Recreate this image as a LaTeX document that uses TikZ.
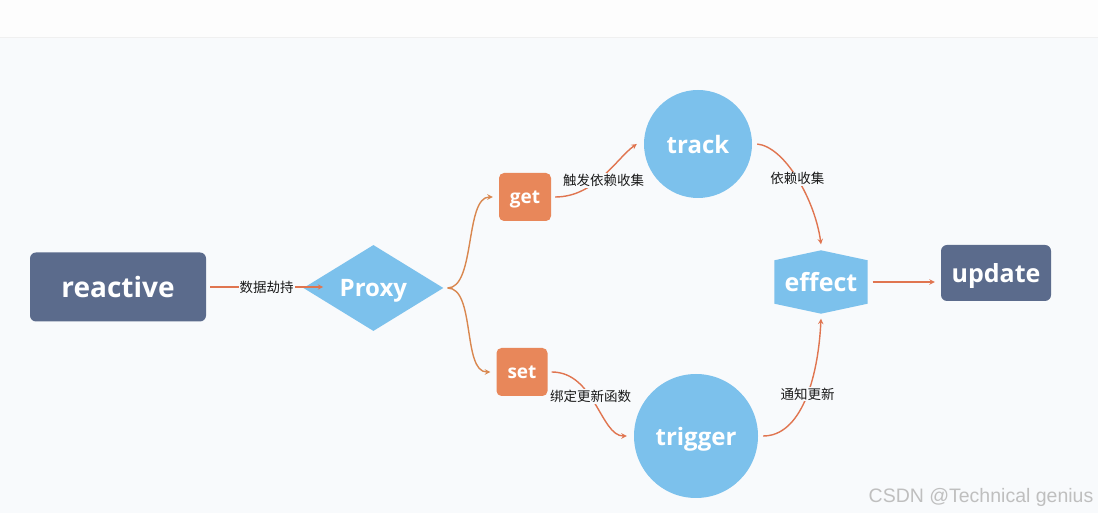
\documentclass[tikz,border=0pt]{standalone}
\usepackage{fontspec}
\setmainfont{Open Sans}
\newfontfamily\cjk{Noto Sans CJK SC}
\newfontfamily\wmfont{Liberation Sans}
\usetikzlibrary{shapes,arrows,positioning,calc,backgrounds}

\definecolor{slate}{HTML}{5B6B8C}
\definecolor{skyblue}{HTML}{7CC1EC}
\definecolor{carrot}{HTML}{E8875A}
\definecolor{linkred}{HTML}{E07550}
\definecolor{branchbrown}{HTML}{D9874F}
\definecolor{bgpale}{HTML}{F8FAFC}
\definecolor{topband}{HTML}{FDFDFD}

\begin{document}
\begin{tikzpicture}[
    x=1pt, y=1pt,
    darkbox/.style={rectangle, fill=slate, text=white, rounded corners=6pt, inner sep=0pt, text depth=0pt, font=\bfseries},
    orangebox/.style={rectangle, fill=carrot, text=white, rounded corners=5pt, inner sep=0pt, text depth=0pt, font=\fontsize{19}{21}\selectfont\bfseries},
    bluecircle/.style={circle, fill=skyblue, text=white, inner sep=0pt, text depth=0pt, font=\fontsize{24}{26}\selectfont\bfseries},
    bluediamond/.style={diamond, fill=skyblue, text=white, aspect=1.63, inner sep=0pt, text depth=0pt, minimum width=140pt, minimum height=86pt, font=\fontsize{24}{26}\selectfont\bfseries},
    hexbox/.style={rectangle, text=white, inner sep=0pt, minimum width=93pt, minimum height=63pt, font=\fontsize{25}{27}\selectfont\bfseries},
    arrow/.style={->, >=stealth, line width=1.4pt, draw=linkred},
    branch/.style={->, >=stealth, line width=1.4pt, draw=branchbrown},
    edgelabel/.style={fill=bgpale, inner sep=1pt, text=black!90, font=\cjk\fontsize{13.5}{15}\selectfont}
]
\useasboundingbox (0,0) rectangle (1098,513);

% Source
\node[darkbox, minimum width=176pt, minimum height=69pt, font=\fontsize{28}{30}\selectfont\bfseries] (reactive) at (118,226) {reactive};

% Proxy
\node[bluediamond, right=97pt of reactive, yshift=-1pt] (proxy) {Proxy};

% Handlers
\node[orangebox, minimum width=52pt, minimum height=48pt] (get) at (525,316) {get};
\node[orangebox, minimum width=51pt, minimum height=48pt] (set) at (522,141) {set};

% Track / trigger
\node[bluecircle, minimum size=108pt] (track) at (698,369) {track};
\node[bluecircle, minimum size=124pt] (trigger) at (696,77) {trigger};

% Effect and update
\node[hexbox] (effect) at (821,231) {effect};
\node[darkbox, minimum width=110pt, minimum height=56pt, font=\fontsize{25}{27}\selectfont\bfseries] (update) at (996,240) {update};

% Watermark
\node[text=black!25, font=\wmfont\fontsize{19.5}{21}\selectfont] (watermark) at (981,16) {CSDN @Technical genius};

% Background and hexagon
\begin{scope}[on background layer]
    \fill[bgpale] (0,0) rectangle (1098,513);
    \fill[topband] (0,476) rectangle (1098,513);
    \draw[black!6, line width=0.8pt] (0,476) -- (1098,476);
    \fill[skyblue] ($(effect.north west)+(0,-10)$) -- (effect.north) -- ($(effect.north east)+(0,-10)$)
        -- ($(effect.south east)+(0,10)$) -- (effect.south) -- ($(effect.south west)+(0,10)$) -- cycle;
\end{scope}

% Arrows
\draw[arrow] ([xshift=4]reactive.east) -- node[edgelabel] (lblhijack) {数据劫持} ([xshift=20]reactive.east -| proxy.west);
\draw[branch] ([xshift=4]proxy.east) .. controls +(28,0) and +(-28,0) .. ([xshift=-6]get.west);
\draw[branch] ([xshift=4]proxy.east) .. controls +(28,0) and +(-28,0) .. ([xshift=-6]set.west);
\draw[arrow] ([xshift=4]get.east) .. controls +(40,0) and +(-20,-14) .. node[edgelabel, pos=0.5, yshift=-5] (lblcollect) {触发依赖收集} ([xshift=-7]track.west);
\draw[arrow] ([xshift=5]track.east) .. controls +(28,-3) and +(-6,44) .. node[edgelabel, pos=0.5] (lbldeps) {依赖收集} ([yshift=6]effect.north);
\draw[arrow] ([xshift=4]set.east) .. controls +(43,0) and +(-26,0) .. node[edgelabel, pos=0.42] (lblbind) {绑定更新函数} ([xshift=-7]trigger.west);
\draw[arrow] ([xshift=5]trigger.east) .. controls +(37,0) and +(-3,-62) .. node[edgelabel, pos=0.55] (lblnotify) {通知更新} ([yshift=-5]effect.south);
\draw[arrow] ([xshift=5]effect.east) -- ([xshift=-6]effect.east -| update.west);

\end{tikzpicture}
\end{document}
